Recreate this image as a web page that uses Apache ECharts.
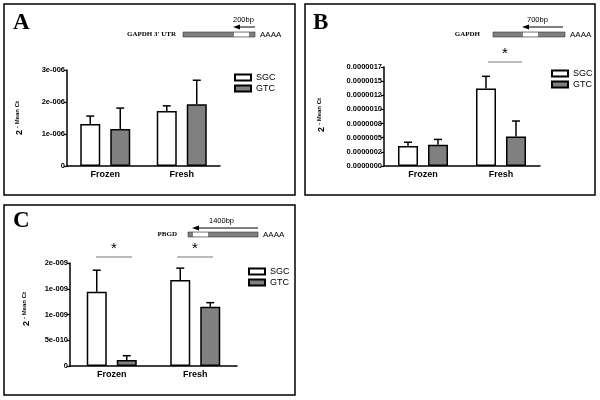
<!DOCTYPE html>
<html><head><meta charset="utf-8">
<script src="https://cdn.jsdelivr.net/npm/echarts@6/dist/echarts.min.js"></script>
<style>html,body{margin:0;padding:0;background:#fff}#c{width:600px;height:400px}</style>
</head><body><div id="c"></div>
<script>
// ---- data ----
const categories = ['Frozen', 'Fresh'];
const seriesNames = ['SGC', 'GTC'];
// Panel A (GAPDH 3' UTR)
const aSGC = [1.31e-6, 1.72e-6];
const aSGCErr = [0.25e-6, 0.16e-6];
const aGTC = [1.16e-6, 1.93e-6];
const aGTCErr = [0.65e-6, 0.75e-6];
const aTicks = ['0', '1e-006', '2e-006', '3e-006'];
// Panel B (GAPDH)
const bSGC = [0.354e-6, 1.37e-6];
const bSGCErr = [0.066e-6, 0.215e-6];
const bGTC = [0.377e-6, 0.52e-6];
const bGTCErr = [0.093e-6, 0.275e-6];
const bTicks = ['0.0000000', '0.0000002', '0.0000005', '0.0000008', '0.0000010', '0.0000012', '0.0000015', '0.0000017'];
// Panel C (PBGD)
const cSGC = [1.443e-9, 1.67e-9];
const cSGCErr = [0.417e-9, 0.23e-9];
const cGTC = [0.117e-9, 1.15e-9];
const cGTCErr = [0.083e-9, 0.08e-9];
const cTicks = ['0', '5e-010', '1e-009', '1e-009', '2e-009'];

const GRAY = '#808080';
const SANS = 'Liberation Sans, Arial, sans-serif';
const SERIF = 'Liberation Serif, Times New Roman, serif';

const panels = [
  {sgc: aSGC, sgcErr: aSGCErr, gtc: aGTC, gtcErr: aGTCErr, ticks: aTicks, interval: 1e-6,
   grid: {left: 67, top: 70, width: 153, height: 96}, legend: {left: 229, top: 67}},
  {sgc: bSGC, sgcErr: bSGCErr, gtc: bGTC, gtcErr: bGTCErr, ticks: bTicks, interval: 0.25e-6,
   grid: {left: 384, top: 67, width: 156, height: 99}, legend: {left: 546, top: 63}},
  {sgc: cSGC, sgcErr: cSGCErr, gtc: cGTC, gtcErr: cGTCErr, ticks: cTicks, interval: 0.5e-9,
   grid: {left: 70, top: 263, width: 167, height: 103}, legend: {left: 243, top: 261}}
];

const BAR_W = 20, BAR_GAP = 10;

const grids = [], xAxes = [], yAxes = [], series = [], legends = [];
panels.forEach((p, i) => {
  grids.push(Object.assign({containLabel: false}, p.grid));
  xAxes.push({
    type: 'category', gridIndex: i, data: categories, boundaryGap: true,
    axisLine: {lineStyle: {color: '#000', width: 1.5}},
    axisTick: {alignWithLabel: true, length: 3, lineStyle: {color: '#000', width: 1.2}},
    axisLabel: {color: '#000', fontFamily: SANS, fontWeight: 'bold', fontSize: 9, margin: 4}
  });
  const ticks = p.ticks, interval = p.interval;
  yAxes.push({
    type: 'value', gridIndex: i, min: 0, max: interval * (ticks.length - 1), interval: interval,
    splitLine: {show: false},
    axisLine: {show: true, lineStyle: {color: '#000', width: 1.5}},
    axisTick: {show: true, length: 3, lineStyle: {color: '#000', width: 1.2}},
    axisLabel: {color: '#000', fontFamily: SANS, fontWeight: 'bold', fontSize: 7.5, margin: 2,
      formatter: v => ticks[Math.round(v / interval)]}
  });
  const mk = (name, vals, color) => ({
    name: name, type: 'bar', xAxisIndex: i, yAxisIndex: i, data: vals,
    barWidth: BAR_W, barGap: (BAR_GAP / BAR_W * 100) + '%',
    itemStyle: {color: color, borderColor: '#000', borderWidth: 1.5},
    emphasis: {disabled: true}, animation: false
  });
  series.push(mk('SGC', p.sgc, '#fff'));
  series.push(mk('GTC', p.gtc, GRAY));
  const errData = [];
  categories.forEach((c, k) => {
    errData.push([k, p.sgc[k], p.sgcErr[k], -1]);
    errData.push([k, p.gtc[k], p.gtcErr[k], 1]);
  });
  series.push({
    type: 'custom', xAxisIndex: i, yAxisIndex: i, data: errData, z: 5, clip: false,
    encode: {x: 0, y: 1}, animation: false, silent: true,
    renderItem: (params, api) => {
      const k = api.value(0), m = api.value(1), e = api.value(2), s = api.value(3);
      const base = api.coord([k, m]);
      const top = api.coord([k, m + e]);
      const x = base[0] + s * (BAR_W + BAR_GAP) / 2;
      const st = {stroke: '#000', lineWidth: 1.5};
      return {type: 'group', children: [
        {type: 'line', shape: {x1: x, y1: base[1], x2: x, y2: top[1]}, style: st},
        {type: 'line', shape: {x1: x - 4, y1: top[1], x2: x + 4, y2: top[1]}, style: st}
      ]};
    }
  });
  legends.push({
    left: p.legend.left, top: p.legend.top, orient: 'vertical', data: seriesNames,
    icon: 'rect', itemWidth: 16, itemHeight: 6, itemGap: 0, selectedMode: false,
    textStyle: {fontFamily: SANS, fontSize: 9, color: '#000', lineHeight: 11}
  });
});

// ---- decorations ----
const g = [];
function box(x, y, w, h) {
  g.push({type: 'rect', shape: {x, y, width: w, height: h}, style: {fill: 'none', stroke: '#000', lineWidth: 1.5}});
}
function letter(t, x, y) {
  g.push({type: 'text', x, y, style: {text: t, font: 'bold 23px ' + SERIF, fill: '#000', textVerticalAlign: 'top'}});
}
function ytitle(cx, cy) {
  g.push({type: 'group', x: cx, y: cy, rotation: Math.PI / 2, children: [
    {type: 'text', x: -12, y: 0, style: {text: '2', font: 'bold 9px ' + SANS, fill: '#000', textAlign: 'left', textVerticalAlign: 'middle'}},
    {type: 'text', x: -5, y: -3, style: {text: '- Mean Ct', font: 'bold 6px ' + SANS, fill: '#000', textAlign: 'left', textVerticalAlign: 'middle'}}
  ]});
}
function gene(label, labelRight, x0, x1, y, wx0, wx1, bp, bpX, arrX0, arrX1, arrY) {
  g.push({type: 'text', x: labelRight, y: y + 2.5, style: {text: label, font: 'bold 7px ' + SERIF, fill: '#000', textAlign: 'right', textVerticalAlign: 'middle'}});
  g.push({type: 'rect', shape: {x: x0, y: y, width: x1 - x0, height: 5}, style: {fill: GRAY, stroke: '#333', lineWidth: 0.6}});
  g.push({type: 'rect', shape: {x: wx0, y: y + 0.5, width: wx1 - wx0, height: 4}, style: {fill: '#fff', stroke: null}});
  g.push({type: 'text', x: x1 + 5, y: y + 2.5, style: {text: 'AAAA', font: '8px ' + SANS, fill: '#000', textAlign: 'left', textVerticalAlign: 'middle'}});
  g.push({type: 'text', x: bpX, y: arrY - 7, style: {text: bp, font: '7.5px ' + SANS, fill: '#000', textAlign: 'left', textVerticalAlign: 'middle'}});
  g.push({type: 'line', shape: {x1: arrX0, y1: arrY, x2: arrX1 + 3, y2: arrY}, style: {stroke: '#000', lineWidth: 1}});
  g.push({type: 'polygon', shape: {points: [[arrX1 - 2, arrY], [arrX1 + 5, arrY - 2.5], [arrX1 + 5, arrY + 2.5]]}, style: {fill: '#000'}});
}
function star(cx, y, half) {
  g.push({type: 'text', x: cx, y: y - 8, style: {text: '*', font: '15px ' + SANS, fill: '#000', textAlign: 'center', textVerticalAlign: 'middle'}});
  g.push({type: 'line', shape: {x1: cx - half, y1: y, x2: cx + half, y2: y}, style: {stroke: '#777', lineWidth: 1}});
}
box(4, 4, 291, 191);
box(305, 4, 290, 191);
box(4, 205, 291, 190);
letter('A', 13, 12);
letter('B', 313, 12);
letter('C', 13, 210);
ytitle(20, 123);
ytitle(322, 120);
ytitle(27, 314);
gene("GAPDH 3' UTR", 176, 183, 255, 32, 234, 249, '200bp', 233, 255, 235, 27);
gene('GAPDH', 480, 493, 565, 32, 523, 538, '700bp', 527, 563, 524, 27);
gene('PBGD', 177, 188, 258, 232, 193, 208, '1400bp', 209, 258, 194, 228);
star(505, 62, 17);
star(114, 257, 18);
star(195, 257, 18);

const chart = echarts.init(document.getElementById('c'), null, {renderer: 'canvas'});
chart.setOption({
  animation: false,
  backgroundColor: '#fff',
  grid: grids, xAxis: xAxes, yAxis: yAxes, series: series, legend: legends,
  graphic: g
});
</script></body></html>
